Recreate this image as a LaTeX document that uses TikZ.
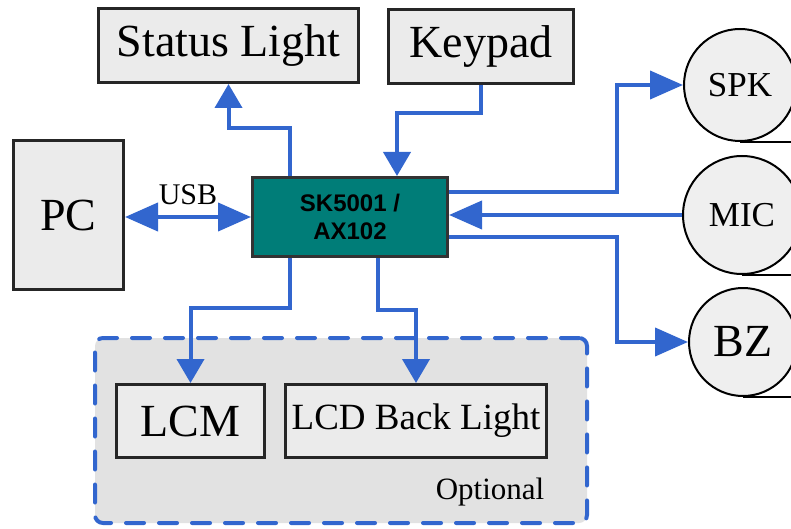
\documentclass[tikz,border=0pt]{standalone}
\usepackage{fontspec}
\setmainfont{Liberation Serif}
\newfontfamily\chipfont{Liberation Sans}
\usetikzlibrary{arrows.meta}

\definecolor{linkblue}{RGB}{50,102,206}
\definecolor{chipteal}{RGB}{0,125,120}
\definecolor{boxgray}{RGB}{235,235,235}
\definecolor{optgray}{RGB}{226,226,226}

\tikzset{
    blk/.style = {draw=black!85, line width=3pt, fill=boxgray, inner sep=0pt,
        font=\fontsize{46}{50}\selectfont},
    chipbox/.style = {draw=black!80, line width=3pt, fill=chipteal, inner sep=0pt, align=center,
        font=\chipfont\bfseries\fontsize{24}{28}\selectfont},
    roundel/.style = {circle, draw=black, line width=2pt, fill=boxgray!80!white, inner sep=0pt},
    link/.style = {draw=linkblue, line width=4pt},
    htip/.tip = {Triangle[length=33pt, width=28pt]},
    vtip/.tip = {Triangle[length=24pt, width=27pt]}
}

\begin{document}
\begin{tikzpicture}[x=1pt, y=-1pt]
    \useasboundingbox (0,0) rectangle (791,529);

    % optional area
    \node[draw=linkblue, line width=4pt, dash pattern=on 18pt off 15pt, line cap=round,
        fill=optgray, rounded corners=8pt, minimum width=492pt, minimum height=185pt]
        (optional) at (341,430.5) {};
    \node[font=\fontsize{31}{34}\selectfont] (opttext) at (490,492) {Optional};

    % blocks
    \node[blk, minimum width=260pt, minimum height=74pt] (status) at (228.5,45.5) {Status Light};
    \node[blk, minimum width=185pt, minimum height=74pt] (keypad) at (481,46.5) {Keypad};
    \node[blk, minimum width=110pt, minimum height=148pt] (pc) at (68.5,215) {PC};
    \node[chipbox, minimum width=195pt, minimum height=79pt] (chip) at (350,217) {SK5001 /\\AX102};
    \node[blk, minimum width=148pt, minimum height=73pt] (lcm) at (190.5,421) {LCM};
    \node[blk, minimum width=261pt, minimum height=73pt, font=\fontsize{37}{40}\selectfont]
        (lcd) at (416,421) {LCD Back Light};

    % round parts
    \node[roundel, minimum size=112pt, font=\fontsize{35}{38}\selectfont] (spk) at (740,85) {SPK};
    \node[roundel, minimum size=118pt, font=\fontsize{35}{38}\selectfont] (mic) at (742,215) {MIC};
    \node[roundel, minimum size=108pt, font=\fontsize{46}{50}\selectfont] (bz) at (743,342) {BZ};
    \draw[line width=2pt] (spk.south) -- ++(60,0);
    \draw[line width=2pt] (mic.south) -- ++(60,0);
    \draw[line width=2pt] (bz.south) -- ++(60,0);

    % connections
    \draw[link, htip-htip] (chip.west -| pc.east) -- (chip.west)
        node[midway, above=7pt, font=\fontsize{30}{32}\selectfont] {USB};
    \draw[link, -vtip] ([xshift=-60pt]chip.north) -- ++(0,-48) -| (status.south);
    \draw[link, -vtip] (keypad.south) -- ++(0,28) -| ([xshift=47pt]chip.north);
    \draw[link, -htip] ([yshift=25pt]chip.east) -- ++(168,0) |- (spk.west);
    \draw[link, -htip] (mic.west) -- (mic.west -| chip.east);
    \draw[link, -htip] ([yshift=-20pt]chip.east) -- ++(168,0) |- (bz.west);
    \draw[link, -vtip] ([xshift=-60pt]chip.south) -- ++(0,50) -| (lcm.north);
    \draw[link, -vtip] ([xshift=28pt]chip.south) -- ++(0,52) -| (lcd.north);
\end{tikzpicture}
\end{document}
